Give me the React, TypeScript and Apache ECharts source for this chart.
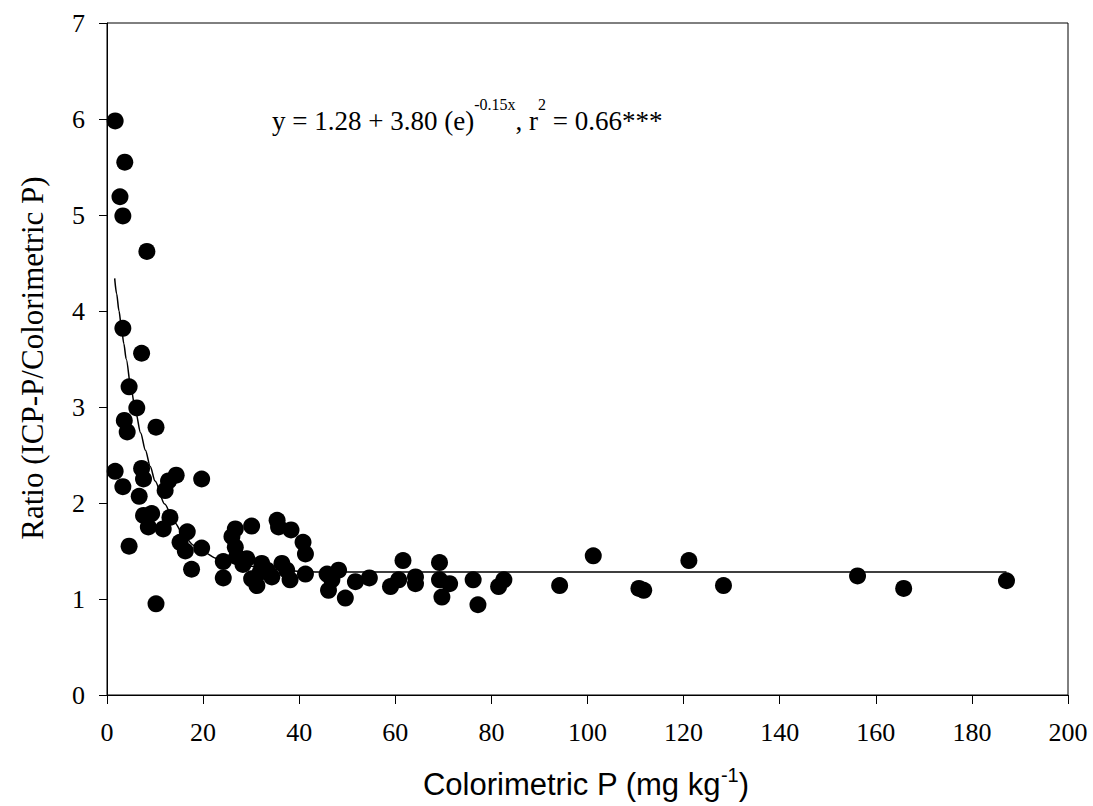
import React, { useEffect, useRef } from 'react';
import * as echarts from 'echarts';

// Scatter data: Colorimetric P (mg kg-1) vs Ratio (ICP-P / Colorimetric P)
const colorimetricP = [
  1.7, 3.7, 2.7, 3.3, 8.3, 3.3, 7.2, 4.6, 6.2, 3.6, 4.2, 10.2, 1.7, 3.3, 7.2, 7.6,
  12.8, 14.4, 12.1, 6.7, 19.7, 7.6, 9.3, 8.6, 13.1, 11.7, 4.6, 16.7, 15.2, 16.3, 19.7,
  17.6, 10.2, 26.7, 26.0, 30.1, 35.4, 35.7, 38.3, 40.8, 41.3, 24.2, 26.7, 27.0, 29.1,
  24.2, 30.1, 31.2, 32.2, 34.3, 36.4, 37.4, 38.1, 41.3, 33.3, 28.3, 31.9, 45.8, 48.2,
  46.8, 46.1, 49.6, 51.7, 54.6, 59.0, 60.7, 61.6, 64.2, 64.2, 69.2, 69.2, 71.3, 69.7,
  76.2, 77.2, 81.5, 82.6, 94.2, 101.2, 110.7, 111.7, 121.1, 128.3, 156.2, 165.8, 187.2,
];
const ratio = [
  5.98, 5.55, 5.19, 4.99, 4.62, 3.82, 3.56, 3.21, 2.99, 2.86, 2.74, 2.79, 2.33, 2.17, 2.36, 2.25,
  2.23, 2.29, 2.13, 2.07, 2.25, 1.87, 1.89, 1.75, 1.85, 1.73, 1.55, 1.70, 1.59, 1.50, 1.53,
  1.31, 0.95, 1.73, 1.65, 1.76, 1.82, 1.75, 1.72, 1.59, 1.47, 1.39, 1.54, 1.44, 1.42,
  1.22, 1.21, 1.14, 1.37, 1.23, 1.37, 1.30, 1.20, 1.26, 1.30, 1.36, 1.28, 1.26, 1.30,
  1.20, 1.09, 1.01, 1.18, 1.22, 1.13, 1.20, 1.40, 1.23, 1.16, 1.38, 1.20, 1.16, 1.02,
  1.20, 0.94, 1.13, 1.20, 1.14, 1.45, 1.11, 1.09, 1.40, 1.14, 1.24, 1.11, 1.19,
];

// Fitted curve
const curveX = [1.6, 2.0, 2.5, 3.0, 3.5, 4.0, 5.0, 6.0, 7.0, 8.0, 9.0, 10, 12, 14, 16, 18, 20, 23, 26, 30, 35, 40, 45, 60, 100, 187.2];
const curveY = [4.34, 4.18, 4.0, 3.83, 3.66, 3.5, 3.19, 2.94, 2.73, 2.55, 2.38, 2.23, 1.99, 1.8, 1.66, 1.56, 1.49, 1.42, 1.38, 1.34, 1.31, 1.29, 1.28, 1.28, 1.28, 1.28];

const equationParts = [
  { text: 'y = 1.28 + 3.80 (e)', sup: false },
  { text: '-0.15x', sup: true },
  { text: ', r', sup: false },
  { text: '2', sup: true },
  { text: ' = 0.66***', sup: false },
];
const xTitleParts = [
  { text: 'Colorimetric P (mg kg', sup: false },
  { text: '-1', sup: true },
  { text: ')', sup: false },
];
const yTitle = 'Ratio (ICP-P/Colorimetric P)';

const SERIF = "'Liberation Serif', 'Times New Roman', serif";
const SANS = "'Liberation Sans', Arial, sans-serif";

function measure(text: string, size: number, family: string): number {
  const c = document.createElement('canvas').getContext('2d');
  if (!c) return text.length * size * 0.5;
  c.font = `${size}px ${family}`;
  return c.measureText(text).width;
}

function buildRun(
  parts: { text: string; sup: boolean }[],
  family: string,
  size: number,
  supSize: number,
  baseline: number,
  supBaseline: number,
  startX: number | null,
  centerX: number | null,
  ascentCenter: number
) {
  const widths = parts.map((p) => measure(p.text, p.sup ? supSize : size, family));
  const total = widths.reduce((a, b) => a + b, 0);
  let x = startX !== null ? startX : (centerX as number) - total / 2;
  const els: any[] = [];
  parts.forEach((p, i) => {
    const fs = p.sup ? supSize : size;
    const bl = p.sup ? supBaseline : baseline;
    els.push({
      type: 'text',
      x,
      y: bl - ascentCenter * fs,
      style: {
        text: p.text,
        fill: '#000',
        fontSize: fs,
        fontFamily: family,
        textAlign: 'left',
        textVerticalAlign: 'middle',
      },
    });
    x += widths[i];
  });
  return els;
}

export default function App() {
  const ref = useRef<HTMLDivElement>(null);
  useEffect(() => {
    document.body.style.margin = '0';
    if (!ref.current) return;
    const chart = echarts.init(ref.current, null, { renderer: 'svg' });

    const points = colorimetricP.map((x, i) => [x, ratio[i]]);
    const curve = curveX.map((x, i) => [x, curveY[i]]);

    const eq = buildRun(equationParts, SERIF, 27, 16, 130, 110, 272, null, 0.3375);
    const xt = buildRun(xTitleParts, SANS, 31, 20, 795, 782, null, 586, 0.3465);

    chart.setOption({
      animation: false,
      backgroundColor: '#fff',
      grid: {
        left: 107,
        right: 25,
        top: 23,
        bottom: 111,
        show: true,
        borderColor: '#000',
        borderWidth: 1,
      },
      xAxis: {
        type: 'value',
        min: 0,
        max: 200,
        interval: 20,
        splitLine: { show: false },
        axisLine: { show: true, onZero: false, lineStyle: { color: '#000', width: 1 } },
        axisTick: { show: true, inside: false, length: 9, lineStyle: { color: '#000' } },
        axisLabel: { color: '#000', fontFamily: SERIF, fontSize: 26, margin: 24 },
      },
      yAxis: {
        type: 'value',
        min: 0,
        max: 7,
        interval: 1,
        splitLine: { show: false },
        axisLine: { show: true, onZero: false, lineStyle: { color: '#000', width: 1 } },
        axisTick: { show: true, inside: false, length: 8, lineStyle: { color: '#000' } },
        axisLabel: { color: '#000', fontFamily: SERIF, fontSize: 26, margin: 22 },
      },
      graphic: [
        ...eq,
        ...xt,
        {
          type: 'text',
          x: 32,
          y: 358,
          rotation: Math.PI / 2,
          style: {
            text: yTitle,
            fill: '#000',
            fontSize: 31,
            fontFamily: SERIF,
            textAlign: 'center',
            textVerticalAlign: 'middle',
          },
        },
      ],
      series: [
        {
          type: 'line',
          data: curve,
          showSymbol: false,
          smooth: 0.3,
          smoothMonotone: 'x',
          lineStyle: { color: '#000', width: 1.5 },
          z: 1,
        },
        {
          type: 'scatter',
          data: points,
          symbol: 'circle',
          symbolSize: 17,
          itemStyle: { color: '#000', opacity: 1 },
          z: 2,
        },
      ],
    });
    return () => chart.dispose();
  }, []);
  return <div ref={ref} style={{ width: 1093, height: 806 }} />;
}
